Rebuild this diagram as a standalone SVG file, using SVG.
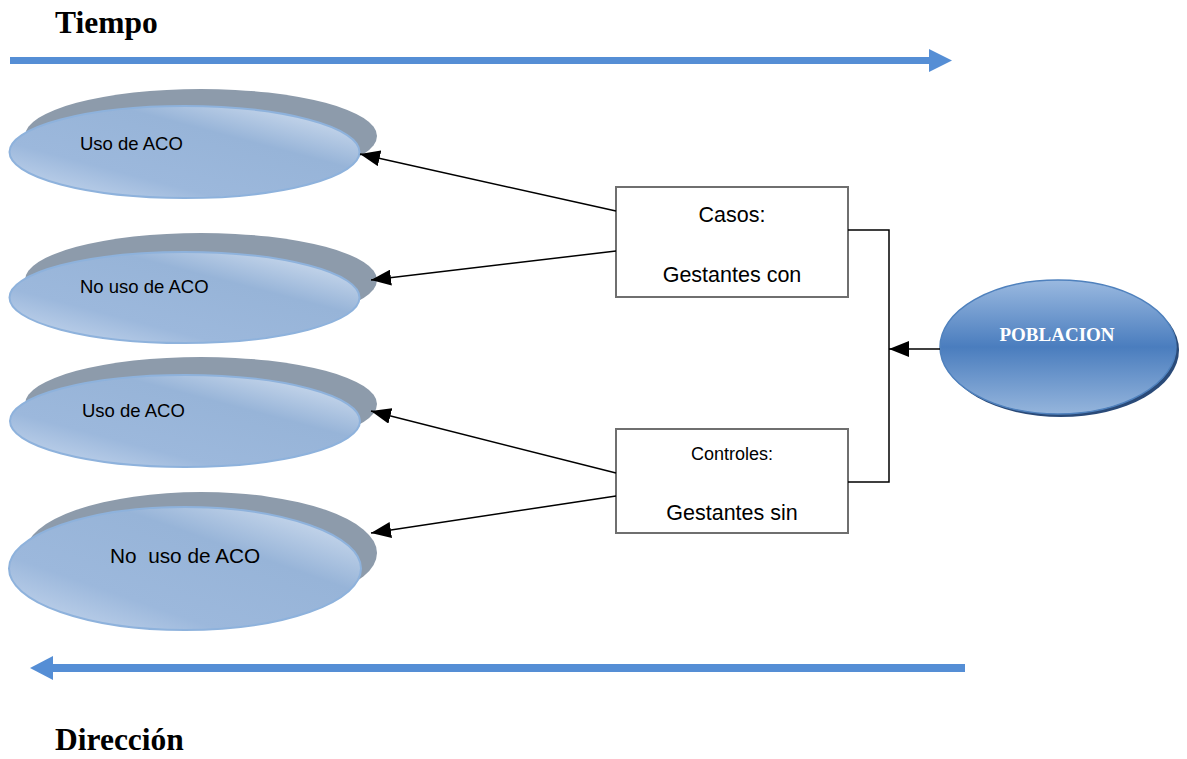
<svg xmlns="http://www.w3.org/2000/svg" width="1187" height="759" viewBox="0 0 1187 759">
<defs>
<linearGradient id="eg" x1="0" y1="1" x2="1" y2="0">
<stop offset="0" stop-color="#cddcf0"/>
<stop offset="0.3" stop-color="#9cb8dc"/>
<stop offset="0.65" stop-color="#97b4d8"/>
<stop offset="1" stop-color="#dde7f4"/>
</linearGradient>
<linearGradient id="pg" x1="0" y1="0" x2="0" y2="1">
<stop offset="0" stop-color="#9ab9e0"/>
<stop offset="0.5" stop-color="#4a7dbe"/>
<stop offset="1" stop-color="#95b5dc"/>
</linearGradient>
<marker id="ah2" viewBox="0 0 20 16" refX="20" refY="8" markerWidth="20" markerHeight="16" markerUnits="userSpaceOnUse" orient="auto">
<path d="M0,0 L20,8 L0,16 Z" fill="#000"/>
</marker>
</defs>
<style>
.sh{fill:#8d9bab}
.fr{fill:url(#eg);stroke:#8eb2dc;stroke-width:2}
.lbl{font-family:"Liberation Sans",Arial,sans-serif;fill:#000}
.box{fill:#fff;stroke:#6f6f6f;stroke-width:2}
.conn{stroke:#000;stroke-width:1.5;fill:none}
.title{font-family:"Liberation Serif","Times New Roman",serif;font-weight:bold;font-size:31.5px;fill:#000}
.barrow{fill:#558ed5}
</style>

<g id="time-arrow">
<text class="title" x="55" y="33">Tiempo</text>
<rect class="barrow" x="10" y="57" width="920" height="7"/>
<path class="barrow" d="M929,49 L952,60.5 L929,72 Z"/>
</g>

<g id="direction-arrow">
<rect class="barrow" x="52" y="664" width="913" height="8"/>
<path class="barrow" d="M30,668 L53,656 L53,680 Z"/>
<text class="title" x="55" y="750">Dirección</text>
</g>

<g id="e1">
<ellipse class="sh" cx="201" cy="136" rx="176" ry="47"/>
<ellipse class="fr" cx="184.5" cy="152" rx="175" ry="46"/>
<text class="lbl" x="80" y="150" font-size="18.5">Uso de ACO</text>
</g>

<g id="e2">
<ellipse class="sh" cx="201" cy="280" rx="176" ry="47"/>
<ellipse class="fr" cx="184.5" cy="297.5" rx="175" ry="45.5"/>
<text class="lbl" x="80" y="293" font-size="18.5">No uso de ACO</text>
</g>

<g id="e3">
<ellipse class="sh" cx="201" cy="404" rx="176" ry="47"/>
<ellipse class="fr" cx="185" cy="421" rx="175" ry="46"/>
<text class="lbl" x="82" y="417" font-size="18.5">Uso de ACO</text>
</g>

<g id="e4">
<ellipse class="sh" cx="201" cy="553" rx="176" ry="61"/>
<ellipse class="fr" cx="185" cy="568.5" rx="176" ry="61.5"/>
<text class="lbl" x="110" y="563" font-size="20.8" xml:space="preserve">No  uso de ACO</text>
</g>

<g id="casos">
<rect class="box" x="616" y="187" width="232" height="110"/>
<text class="lbl" x="732" y="222" font-size="21.5" text-anchor="middle">Casos:</text>
<text class="lbl" x="732" y="282" font-size="21.5" text-anchor="middle">Gestantes con</text>
</g>

<g id="controles">
<rect class="box" x="616" y="429" width="232" height="104"/>
<text class="lbl" x="732" y="460" font-size="18" text-anchor="middle">Controles:</text>
<text class="lbl" x="732" y="520" font-size="21.5" text-anchor="middle">Gestantes sin</text>
</g>

<g id="poblacion">
<ellipse cx="1061" cy="350" rx="118" ry="67" fill="#2a4a78"/>
<ellipse cx="1058" cy="347" rx="118" ry="67" fill="url(#pg)" stroke="#4f81bd" stroke-width="1.5"/>
<text x="1057" y="341" font-family="'Liberation Serif','Times New Roman',serif" font-weight="bold" font-size="19" fill="#fff" text-anchor="middle">POBLACION</text>
</g>

<g id="connectors">
<line class="conn" x1="616" y1="211" x2="360" y2="154" marker-end="url(#ah2)"/>
<line class="conn" x1="616" y1="251" x2="371" y2="280" marker-end="url(#ah2)"/>
<line class="conn" x1="616" y1="473" x2="371" y2="411" marker-end="url(#ah2)"/>
<line class="conn" x1="616" y1="496" x2="371" y2="533" marker-end="url(#ah2)"/>
<polyline class="conn" points="848,230 889,230 889,482 848,482"/>
<line class="conn" x1="940" y1="349" x2="889" y2="349" marker-end="url(#ah2)"/>
</g>
</svg>
